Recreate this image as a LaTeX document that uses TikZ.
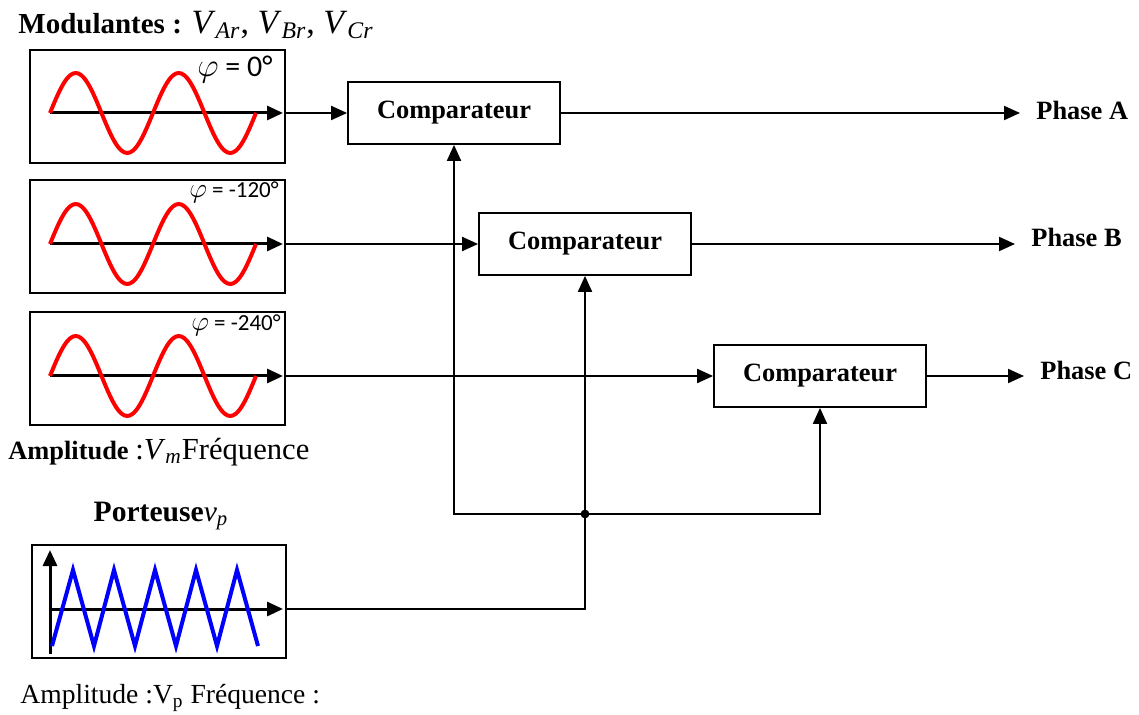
\documentclass[tikz,border=0pt]{standalone}
\usepackage{fontspec}
\setmainfont{Liberation Serif}
\newfontfamily\calibfont{Carlito}
\usetikzlibrary{arrows.meta}

\newcommand{\vsub}[2]{\textit{#1}\textsubscript{\textit{#2}}}
\newcommand{\bigphi}{\scalebox{1.15}{$\varphi$}}

\tikzset{
  sigtip/.style={-{Triangle[length=8pt,width=7pt]}},
  sigbox/.style={draw,line width=1pt,minimum width=127.5pt,minimum height=56.5pt,inner sep=0pt},
  compbox/.style={draw,line width=0.9pt,minimum width=106pt,minimum height=31pt,
    font=\fontsize{13.2}{15}\selectfont\bfseries},
  wire/.style={line width=1pt,sigtip},
  axisline/.style={line width=1.5pt,sigtip},
  wave/.style={red,line width=2pt,line join=round},
  tri/.style={blue,line width=2pt},
  lbl/.style={inner sep=0pt,font=\fontsize{13.2}{15}\selectfont},
  phaselbl/.style={lbl,anchor=west,font=\fontsize{13.2}{15}\selectfont\bfseries},
  philbl/.style={inner sep=0pt,font=\fontsize{11.5}{13}\selectfont\calibfont},
}

\begin{document}
\begin{tikzpicture}[x=0.5pt,y=-0.5pt]
  \useasboundingbox (0,0) rectangle (1139,715);
  % title
  \node[lbl,anchor=west,font=\fontsize{14.5}{16}\selectfont] (title) at (18,25)
    {\textbf{Modulantes :} {\fontsize{17}{19}\selectfont\vsub{V}{Ar}, \vsub{V}{Br}, \vsub{V}{Cr}}};
  % modulating signals
  \foreach \nm/\yc/\ya in {A/106.5/113, B/236.5/244, C/369/376} {
    \node[sigbox] (sig\nm) at (157.5,\yc) {};
    \draw[axisline] (50,\ya) -- (283,\ya);
    \draw[wave] plot[smooth,domain=0:720,samples=73] ({50+0.2861*\x},{\ya-40*sin(\x)});
    \coordinate (out\nm) at (285,\ya);
  }
  \node[philbl,font=\fontsize{15}{17}\selectfont\calibfont] (phiA) at (235,69) {\bigphi{} = 0°};
  \node[philbl] (phiB) at (234,192) {\bigphi{} = -120°};
  \node[philbl] (phiC) at (236,325) {\bigphi{} = -240°};
  \node[lbl,anchor=west] (ampM) at (8,452)
    {\textbf{Amplitude} {\fontsize{15.3}{16}\selectfont:\vsub{V}{m}Fréquence}};
  % comparators
  \node[compbox] (compA) at (454,113) {Comparateur};
  \node[compbox] (compB) at (585,244) {Comparateur};
  \node[compbox] (compC) at (820,376) {Comparateur};
  \node[phaselbl] (phA) at (1036,110) {Phase A};
  \node[phaselbl] (phB) at (1031,237) {Phase B};
  \node[phaselbl] (phC) at (1040,370) {Phase C};
  \foreach \nm in {A,B,C} {
    \draw[wire] (out\nm) -- (comp\nm.west);
    \draw[wire,shorten >=8pt] (comp\nm.east) -- (comp\nm.east -| ph\nm.west);
  }
  % carrier
  \node[lbl,font=\fontsize{14.8}{16}\selectfont] (carlbl) at (161,516) {\textbf{Porteuse}\vsub{v}{p}};
  \node[sigbox,minimum width=127pt] (sigP) at (159,601.5) {};
  \draw[axisline] (50,654) -- (50,550);
  \draw[axisline] (50,609) -- (283,609);
  \draw[tri] (52,646) \foreach \i in {0,...,4} { -- ({73+41*\i},570) -- ({94+41*\i},646) };
  \node[lbl,anchor=west,font=\fontsize{13.8}{15}\selectfont] (ampP) at (20,698)
    {Amplitude :V\textsubscript{p} Fréquence :};
  \coordinate (outP) at (286,609);
  \coordinate (junc) at (585,514);
  \draw[line width=1pt] (outP) -| (junc);
  \draw[wire] (junc) -- (compB.south);
  \draw[wire] (junc) -| (compA.south);
  \draw[wire] (junc) -| (compC.south);
  \fill (junc) circle (2.2pt);
\end{tikzpicture}
\end{document}
